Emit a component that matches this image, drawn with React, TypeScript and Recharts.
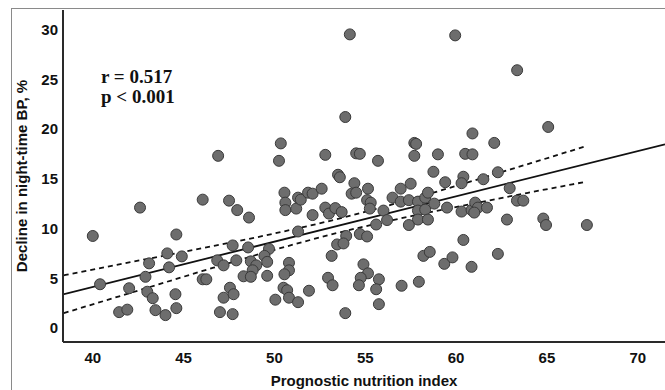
import { ComposedChart, Scatter, Line, XAxis, YAxis } from 'recharts'

// Prognostic nutrition index (x) and decline in night-time BP, % (y)
const pni = [
  40.0, 44.6, 44.1, 44.9, 43.1, 44.2, 42.9, 40.4, 42.0, 43.0, 43.3, 44.55, 41.45, 41.9, 43.45, 44.0, 44.6,
  46.05, 46.25, 46.85, 47.2, 47.7, 47.9, 48.55, 48.7, 49.0, 48.8, 48.3, 48.7, 47.55, 47.2, 47.75, 47.0, 47.7,
  46.9, 46.05, 47.5, 47.95, 48.6, 42.6,
  50.35, 50.25, 52.8, 54.5, 54.7, 55.7, 57.7, 57.8, 57.7, 59.0, 58.75, 59.4, 53.5, 53.6, 54.4, 57.5,
  50.55, 50.6, 50.6, 51.2, 51.3, 51.45, 51.85, 52.1, 52.6, 52.1, 52.8, 53.0, 53.35, 53.7, 54.25, 54.5,
  55.15, 55.1, 55.3, 55.25, 55.6, 56.0, 56.2, 56.5, 56.95, 56.95, 57.4, 57.9, 58.3, 58.45, 57.9, 58.3,
  57.9, 58.45, 57.4, 58.8, 59.5, 51.3,
  53.95, 54.7, 55.1, 53.45, 53.8, 53.15, 49.7, 49.45, 49.6, 49.6, 50.8, 50.8, 50.55, 50.5, 50.7, 50.8,
  51.3, 50.05, 51.9, 52.95, 53.2, 53.9, 54.9, 55.15, 54.75, 54.65, 55.75, 55.6, 55.75, 57.0, 57.95,
  58.2, 58.55, 59.35, 59.8,
  54.15, 59.95, 53.9, 63.36, 65.07, 60.9,
  62.1, 60.5, 60.9, 60.4, 60.3, 61.5, 62.3, 62.95, 63.35, 63.7, 60.3, 60.85, 61.05, 61.2, 61.0, 61.7,
  62.8, 64.8, 64.95, 67.2, 60.4, 60.85, 62.3,
]
const decline = [
  9.25, 9.4, 7.5, 7.2, 6.5, 6.1, 5.15, 4.4, 4.0, 3.65, 3.0, 3.4, 1.6, 1.85, 1.8, 1.3, 2.0,
  4.9, 4.9, 6.8, 6.3, 8.3, 6.8, 8.1, 6.7, 6.3, 5.8, 5.2, 5.15, 4.05, 3.05, 3.4, 1.6, 1.4,
  17.3, 12.9, 12.8, 11.85, 11.1, 12.1,
  18.55, 16.8, 17.4, 17.55, 17.5, 16.8, 18.6, 18.5, 17.3, 17.45, 15.7, 14.65, 15.4, 15.15, 14.55, 14.5,
  13.6, 12.6, 11.85, 12.0, 13.1, 12.9, 13.6, 13.5, 14.0, 11.35, 12.1, 11.5, 12.05, 11.65, 13.5, 13.6,
  14.0, 12.85, 12.6, 12.0, 10.4, 11.8, 10.85, 13.1, 14.0, 12.7, 12.85, 12.7, 13.1, 13.6, 11.8, 11.9,
  10.9, 10.9, 10.35, 12.5, 12.1, 9.7,
  9.25, 9.45, 9.2, 8.4, 8.5, 7.25, 7.95, 7.25, 6.65, 5.25, 6.55, 5.8, 5.4, 4.05, 3.8, 3.05,
  2.6, 2.85, 3.75, 5.05, 4.3, 1.5, 6.4, 5.5, 5.05, 4.3, 4.9, 3.9, 2.4, 4.25, 4.65,
  7.25, 7.65, 6.45, 7.1,
  29.5, 29.4, 21.2, 25.9, 20.2, 19.55,
  18.6, 17.5, 17.45, 15.2, 14.55, 14.95, 15.65, 14.05, 12.8, 12.8, 11.7, 11.85, 12.6, 12.1, 11.6, 12.1,
  10.9, 11.0, 10.35, 10.35, 8.85, 6.15, 7.45,
]

// fit line (solid) and 95% CI (dashed)
const fitX = [38.36, 71.5]
const fitY = [3.39, 18.46]
const ciX = [38.4, 42, 46, 50, 53.5, 57, 61, 64, 67.1]
const ciUpper = [5.3, 6.59, 8.01, 9.5, 10.97, 12.68, 14.83, 16.5, 18.24]
const ciLower = [1.5, 3.49, 5.71, 7.86, 9.57, 11.04, 12.53, 13.6, 14.68]

const xTicks = [40, 45, 50, 55, 60, 65, 70]
const yTicks = [0, 5, 10, 15, 20, 25, 30]

const points = pni.map((x, i) => ({ x, y: decline[i] }))
const fitData = fitX.map((x, i) => ({ x, fit: fitY[i] }))
const ciData = ciX.map((x, i) => ({ x, upper: ciUpper[i], lower: ciLower[i] }))

const tickStyle = { fontFamily: 'Liberation Sans, Arial, sans-serif', fontSize: 15, fontWeight: 700, fill: '#111' }

const Dot = (props: any) => (
  <circle cx={props.cx} cy={props.cy} r={5.5} fill="#6d6d6d" stroke="#3a3a3a" strokeWidth={1} />
)

export default function App() {
  return (
    <div style={{ position: 'absolute', left: 0, top: 0, width: 665, height: 390, overflow: 'hidden', background: '#fff' }}>
      <div style={{ position: 'absolute', left: 11, top: 8, width: 720, height: 440, border: '1px solid #8a8a8a' }} />
      <div style={{ position: 'absolute', left: 0, top: 0 }}>
        <ComposedChart width={665} height={390} margin={{ top: 10, right: 0, bottom: 0, left: 0 }}>
          <XAxis
            dataKey="x"
            type="number"
            domain={[38.36, 71.5]}
            allowDataOverflow
            ticks={xTicks}
            height={48}
            tickSize={0}
            tickMargin={10}
            tick={tickStyle}
            stroke="#2a2a2a"
            strokeWidth={2}
            label={{
              value: 'Prognostic nutrition index',
              position: 'insideBottom',
              offset: 4,
              style: { ...tickStyle, textAnchor: 'middle' },
            }}
          />
          <YAxis
            type="number"
            domain={[-1.4, 31.95]}
            allowDataOverflow
            ticks={yTicks}
            width={63}
            tickSize={0}
            tickMargin={5}
            tick={tickStyle}
            stroke="#2a2a2a"
            strokeWidth={2}
            label={{
              value: 'Decline in night-time BP, %',
              angle: -90,
              position: 'center',
              dx: -9.5,
              style: { ...tickStyle, textAnchor: 'middle' },
            }}
          />
          <Scatter data={points} dataKey="y" shape={Dot} isAnimationActive={false} />
          <Line data={ciData} dataKey="upper" type="monotone" stroke="#111" strokeWidth={1.8} strokeDasharray="5 4" dot={false} activeDot={false} isAnimationActive={false} />
          <Line data={ciData} dataKey="lower" type="monotone" stroke="#111" strokeWidth={1.8} strokeDasharray="5 4" dot={false} activeDot={false} isAnimationActive={false} />
          <Line data={fitData} dataKey="fit" type="linear" stroke="#111" strokeWidth={1.8} dot={false} activeDot={false} isAnimationActive={false} />
        </ComposedChart>
      </div>
      <svg width={665} height={390} style={{ position: 'absolute', left: 0, top: 0, pointerEvents: 'none' }}>
        <g style={{ fontFamily: 'Liberation Serif, Times New Roman, serif', fontSize: 19, fontWeight: 700, fill: '#111' }}>
          <text x={101} y={83}>r = 0.517</text>
          <text x={101} y={103}>p &lt; 0.001</text>
        </g>
      </svg>
    </div>
  )
}
